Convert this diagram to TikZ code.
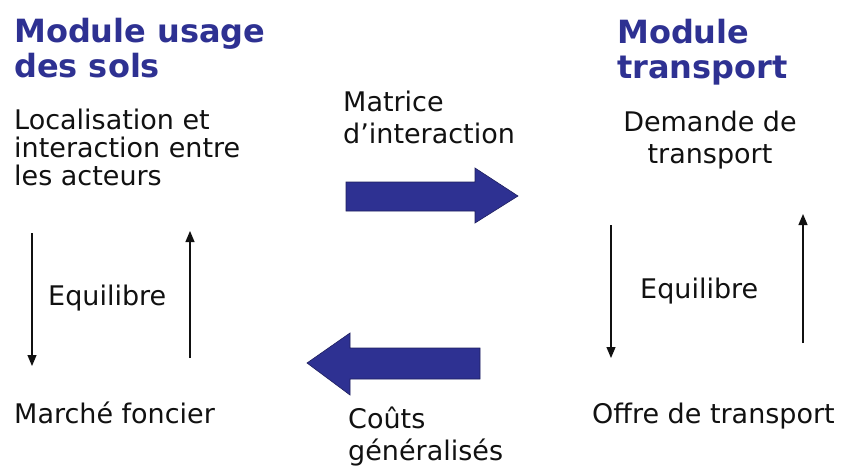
\documentclass[tikz,border=0pt]{standalone}
\usepackage{fontspec}
\setmainfont{DejaVu Sans}
\usepackage{xcolor}
\usepackage{tikz}
\usetikzlibrary{arrows.meta}
\definecolor{navy}{HTML}{2E3192}
\definecolor{navyedge}{HTML}{1E1F5E}
\definecolor{ink}{HTML}{111111}
\tikzset{
  title/.style={text=navy, font=\fontsize{32}{35}\selectfont\bfseries, anchor=base west, inner sep=0pt, align=left},
  body/.style={text=ink, font=\fontsize{27}{32}\selectfont, anchor=base west, inner sep=0pt, align=left},
  bigarrow/.style={fill=navy, draw=navyedge, line width=0.6pt, line join=miter},
  thin/.style={draw=ink, line width=1.2pt, -{Triangle[length=11pt,width=9pt]}},
}

\begin{document}
\begin{tikzpicture}[x=1pt,y=-1pt]
  \useasboundingbox (0,0) rectangle (841,466);
  % titles (base = last line)
  \node[title] (solTitle) at (14,77) {Module usage\\des sols};
  \node[title] (trTitle) at (617,78) {Module\\transport};
  % left block
  \node[body, font=\fontsize{27}{28}\selectfont] (loc) at (14,185) {Localisation et\\interaction entre\\les acteurs};
  \node[body] (marche) at (14,423) {Marché foncier};
  \node[body] (eqL) at (48,305) {Equilibre};
  % right block
  \node[body, align=center, anchor=base] (dem) at (710,163) {Demande de\\transport};
  \node[body] (offre) at (592,423) {Offre de transport};
  \node[body] (eqR) at (640,298) {Equilibre};
  % middle labels
  \node[body] (matrice) at (343,143) {Matrice\\d’interaction};
  \node[body] (couts) at (348,460) {Coûts\\généralisés};
  % big arrows
  \draw[bigarrow] (346,182) -- (475,182) -- (475,168) -- (518,196)
    -- (475,223) -- (475,211) -- (346,211) -- cycle;
  \draw[bigarrow] (480,348) -- (350,348) -- (350,333) -- (307,363)
    -- (350,395) -- (350,379) -- (480,379) -- cycle;
  % equilibrium arrows
  \coordinate (lDownA) at (32,233);
  \coordinate (lDownB) at (32,366);
  \coordinate (lUpA) at (190,358);
  \coordinate (lUpB) at (190,231);
  \coordinate (rDownA) at (611,225);
  \coordinate (rDownB) at (611,358);
  \coordinate (rUpA) at (803,343);
  \coordinate (rUpB) at (803,214);
  \draw[thin] (lDownA) -- (lDownB);
  \draw[thin] (lUpA) -- (lUpB);
  \draw[thin] (rDownA) -- (rDownB);
  \draw[thin] (rUpA) -- (rUpB);
\end{tikzpicture}
\end{document}
